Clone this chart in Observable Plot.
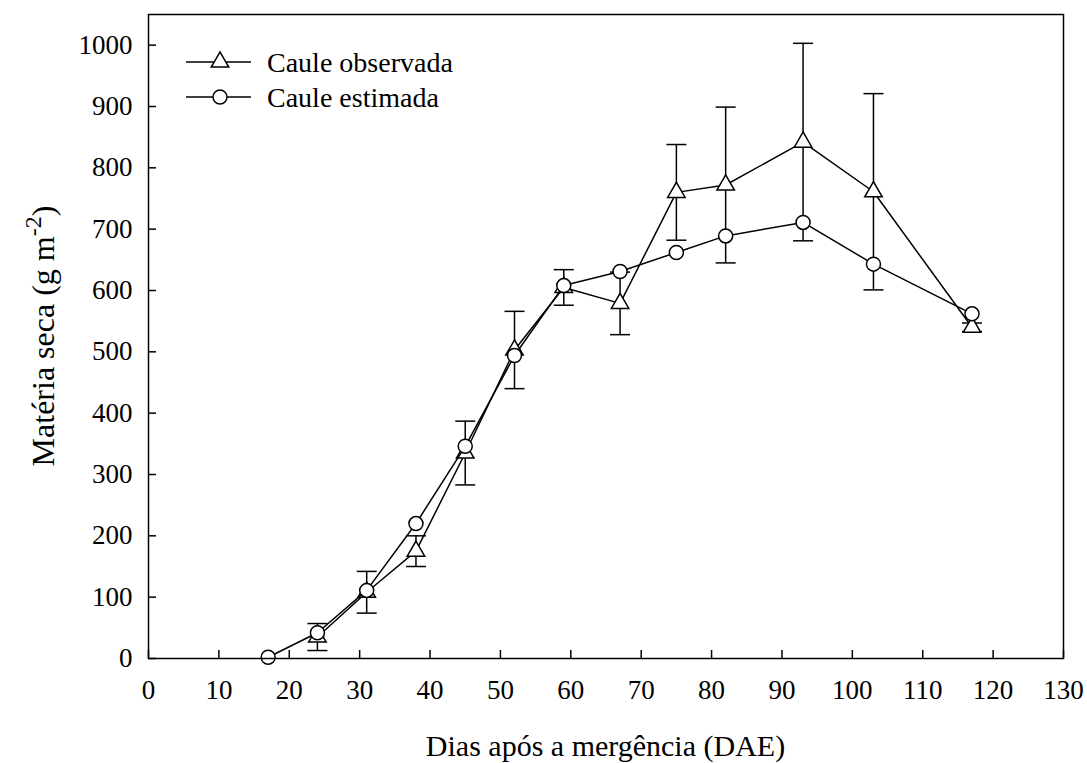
<!DOCTYPE html>
<html>
<head>
<meta charset="utf-8">
<script src="https://cdn.jsdelivr.net/npm/d3@7"></script>
<script src="https://cdn.jsdelivr.net/npm/@observablehq/plot@0.6"></script>
<style>
  html, body { margin: 0; padding: 0; background: #fff; }
  #chart { width: 1087px; height: 763px; }
</style>
</head>
<body>
<div id="chart"></div>
<script>
// Data
const days = [17, 24, 31, 38, 45, 52, 59, 67, 75, 82, 93, 103, 117];
const estimada = [2, 42, 111, 220, 346, 494, 608, 631, 662, 689, 711, 643, 562];
const obsDays = [24, 31, 38, 45, 52, 59, 67, 75, 82, 93, 103, 117];
const observada = [35, 108, 175, 335, 503, 605, 579, 760, 772, 842, 761, 540];
const obsErr = [22, 34, 25, 52, 63, 29, 51, 78, 127, 161, 160, 7];
const xTicks = [0, 10, 20, 30, 40, 50, 60, 70, 80, 90, 100, 110, 120, 130];
const yTicks = [0, 100, 200, 300, 400, 500, 600, 700, 800, 900, 1000];
const seriesNames = ["Caule observada", "Caule estimada"];
const xLabel = "Dias após a mergência (DAE)";

const est = days.map((d, i) => ({x: d, y: estimada[i]}));
const obs = obsDays.map((d, i) => ({x: d, y: observada[i], e: obsErr[i]}));

const W = 1087, H = 763;
const mL = 148, mR = 24, mT = 14, mB = 105;
const plotW = W - mL - mR, plotH = H - mT - mB;

const capSymbol = {
  draw(ctx, size) {
    const w = Math.sqrt(size / Math.PI);
    ctx.moveTo(-w, 0);
    ctx.lineTo(w, 0);
  }
};

const font = "'Liberation Serif', 'Times New Roman', serif";

const chart = Plot.plot({
  width: W,
  height: H,
  marginLeft: mL,
  marginRight: mR,
  marginTop: mT,
  marginBottom: mB,
  style: {fontFamily: font, fontSize: "27px", color: "black", background: "white"},
  x: {domain: [0, 130]},
  y: {domain: [0, 1050]},
  marks: [
    Plot.axisX({ticks: xTicks, tickSize: 0, tickPadding: 21, label: null, fontSize: 27, tickFormat: d => String(d)}),
    Plot.axisY({ticks: yTicks, tickSize: 0, tickPadding: 16, label: null, fontSize: 27, tickFormat: d => String(d)}),
    Plot.tickX(xTicks, {x: d => d, insetTop: plotH - 8, stroke: "black", strokeWidth: 1.5}),
    Plot.tickY(yTicks, {y: d => d, insetRight: plotW - 8, stroke: "black", strokeWidth: 1.5}),
    // error bars (observed)
    Plot.ruleX(obs, {x: "x", y1: d => d.y - d.e, y2: d => d.y + d.e, stroke: "black", strokeWidth: 1.5}),
    Plot.dot(obs, {x: "x", y: d => d.y + d.e, symbol: capSymbol, r: 10, stroke: "black", strokeWidth: 1.5}),
    Plot.dot(obs, {x: "x", y: d => d.y - d.e, symbol: capSymbol, r: 10, stroke: "black", strokeWidth: 1.5}),
    // observed line + triangles
    Plot.line(obs, {x: "x", y: "y", stroke: "black", strokeWidth: 1.5}),
    Plot.dot(obs, {x: "x", y: "y", symbol: "triangle", r: 6.5, fill: "white", stroke: "black", strokeWidth: 1.5}),
    // estimated line + circles
    Plot.line(est, {x: "x", y: "y", stroke: "black", strokeWidth: 1.5}),
    Plot.dot(est, {x: "x", y: "y", symbol: "circle", r: 7, fill: "white", stroke: "black", strokeWidth: 1.5}),
    Plot.frame({stroke: "black", strokeWidth: 1.5})
  ]
});

const svg = d3.select(chart);

// Axis titles
svg.append("text")
  .attr("x", mL + plotW / 2)
  .attr("y", 756)
  .attr("text-anchor", "middle")
  .attr("font-family", font)
  .attr("font-size", 30)
  .attr("fill", "black")
  .text(xLabel);

const yl = svg.append("text")
  .attr("transform", `translate(54, ${mT + plotH / 2}) rotate(-90)`)
  .attr("text-anchor", "middle")
  .attr("font-family", font)
  .attr("font-size", 32)
  .attr("fill", "black");
yl.append("tspan").text("Matéria seca (g m");
yl.append("tspan").attr("dy", -13).attr("font-size", 24).text("-2");
yl.append("tspan").attr("dy", 13).text(")");

// Legend
const leg = svg.append("g").attr("font-family", font).attr("font-size", 28).attr("text-anchor", "start");
const rows = [
  {y: 62, sym: d3.symbolTriangle, size: Math.PI * 6.5 * 6.5},
  {y: 97, sym: d3.symbolCircle, size: Math.PI * 7 * 7}
];
rows.forEach((r, i) => {
  leg.append("line").attr("x1", 186).attr("x2", 251).attr("y1", r.y).attr("y2", r.y)
    .attr("stroke", "black").attr("stroke-width", 1.5);
  leg.append("path").attr("d", d3.symbol(r.sym, r.size)()).attr("transform", `translate(220, ${r.y})`)
    .attr("fill", "white").attr("stroke", "black").attr("stroke-width", 1.5);
  leg.append("text").attr("x", 267).attr("y", r.y).attr("dy", "0.35em").attr("fill", "black").text(seriesNames[i]);
});

document.getElementById("chart").appendChild(chart);
</script>
</body>
</html>
